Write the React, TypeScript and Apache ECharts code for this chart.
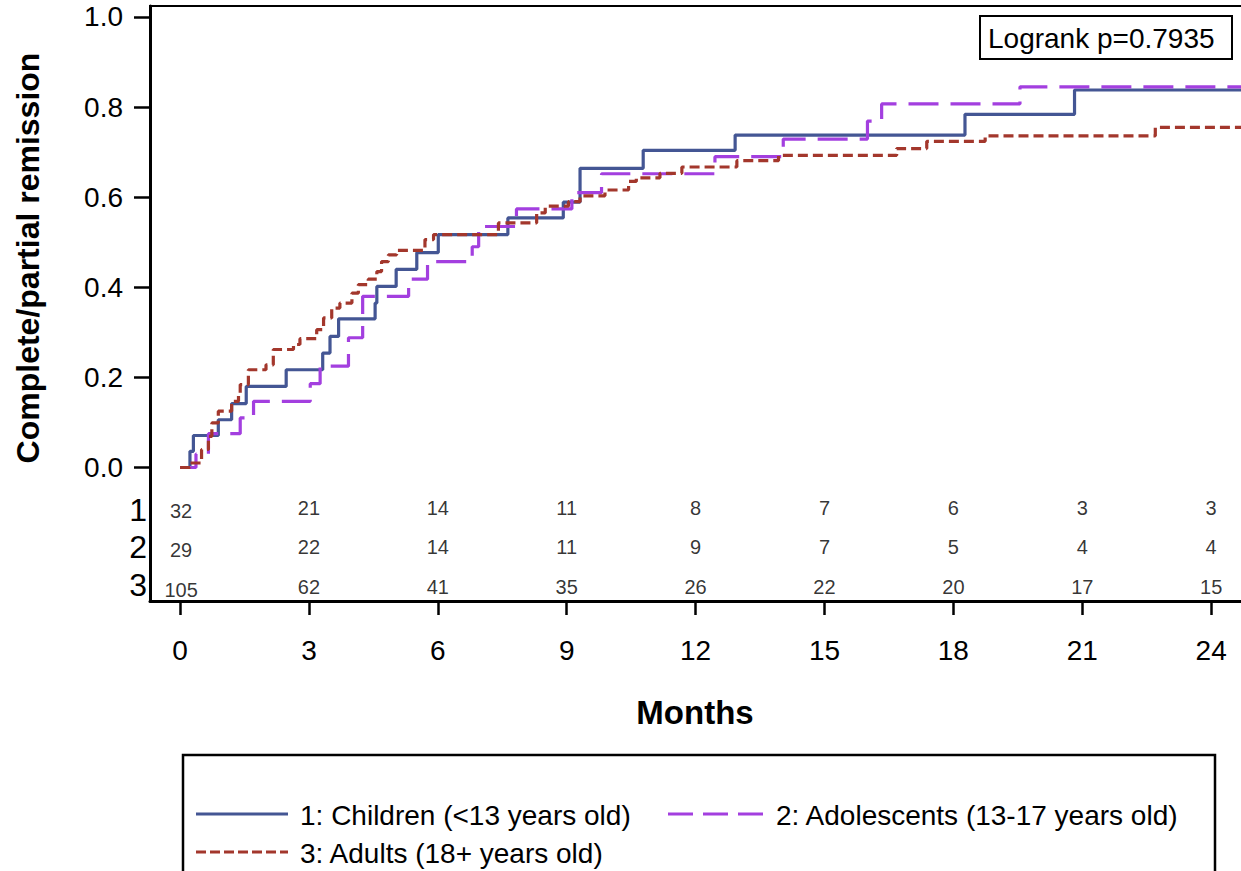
import React, { useEffect, useRef } from "react";
import * as echarts from "echarts";

// ---- data ----
const childTimes = [0, 0.23, 0.31, 0.89, 1.2, 1.54, 2.47, 3.32, 3.49, 3.69, 4.54, 4.58, 5.03, 5.51, 6.01, 7.63, 8.92, 9.31, 10.78, 12.92, 18.27, 20.82, 25.3];
const childValues = [0, 0.036, 0.071, 0.106, 0.142, 0.18, 0.217, 0.254, 0.291, 0.33, 0.365, 0.402, 0.44, 0.477, 0.517, 0.554, 0.589, 0.664, 0.704, 0.738, 0.784, 0.838, 0.838];

const adolTimes = [0, 0.37, 0.66, 1.4, 1.71, 3.03, 3.26, 3.92, 4.25, 5.32, 5.76, 6.8, 6.95, 7.83, 9.12, 9.81, 12.45, 14.04, 16.0, 16.33, 19.55, 25.3];
const adolValues = [0, 0.03, 0.075, 0.11, 0.147, 0.186, 0.225, 0.288, 0.38, 0.418, 0.457, 0.49, 0.535, 0.574, 0.61, 0.652, 0.69, 0.729, 0.769, 0.807, 0.845, 0.845];

const adultTimes = [0, 0.23, 0.5, 0.66, 0.74, 0.89, 1.2, 1.36, 1.4, 1.59, 2.0, 2.17, 2.64, 2.79, 3.18, 3.34, 3.53, 3.72, 4.0, 4.15, 4.38, 4.58, 4.69, 4.85, 5.04, 5.7, 5.9, 7.41, 8.3, 8.5, 9.04, 9.31, 9.89, 10.44, 10.62, 11.17, 11.68, 12.96, 13.93, 16.68, 17.38, 18.74, 22.7, 25.3];
const adultValues = [0, 0.01, 0.04, 0.069, 0.099, 0.125, 0.147, 0.166, 0.184, 0.217, 0.228, 0.262, 0.273, 0.286, 0.306, 0.332, 0.354, 0.365, 0.387, 0.406, 0.418, 0.435, 0.457, 0.472, 0.482, 0.506, 0.517, 0.543, 0.565, 0.58, 0.59, 0.603, 0.616, 0.635, 0.643, 0.653, 0.667, 0.681, 0.693, 0.708, 0.724, 0.736, 0.755, 0.755];

const riskTimes = [0, 3, 6, 9, 12, 15, 18, 21, 24];
const risk1 = [32, 21, 14, 11, 8, 7, 6, 3, 3];
const risk2 = [29, 22, 14, 11, 9, 7, 5, 4, 4];
const risk3 = [105, 62, 41, 35, 26, 22, 20, 17, 15];

const xTicks = [0, 3, 6, 9, 12, 15, 18, 21, 24];
const yTicks = [0, 0.2, 0.4, 0.6, 0.8, 1.0];

const seriesNames = ["1: Children (<13 years old)", "2: Adolescents (13-17 years old)", "3: Adults (18+ years old)"];
const groupLabels = ["1", "2", "3"];

const BLUE = "#445694";
const PURPLE = "#a33fdf";
const RED = "#a3372c";
const FONT = "'Liberation Sans', Arial, Helvetica, sans-serif";

export default function App() {
  const ref = useRef<HTMLDivElement>(null);

  useEffect(() => {
    if (!ref.current) return;
    const chart = echarts.init(ref.current, undefined, { renderer: "svg" });

    const zip = (t: number[], v: number[]) => t.map((x, i) => [x, v[i]]);
    // risk-table rows placed in value space below 0
    const rowY = [-0.0899, -0.1765, -0.2642];
    const riskRows = [risk1, risk2, risk3];
    const riskData: any[] = [];
    riskRows.forEach((row, r) => {
      row.forEach((n, i) => {
        const item: any = { value: [riskTimes[i], rowY[r], n] };
        if (i === 0) item.label = { offset: [1, 3] };
        riskData.push(item);
      });
    });

    const option: any = {
      animation: false,
      grid: {
        left: 150,
        top: 6,
        width: 1117,
        height: 595,
        show: true,
        borderColor: "#000",
        borderWidth: 2,
        backgroundColor: "transparent",
      },
      xAxis: {
        type: "value",
        min: -0.7,
        max: 25.3,
        axisLine: { show: true, onZero: false, lineStyle: { color: "#000", width: 3 } },
        axisTick: { show: true, customValues: xTicks, length: 14, lineStyle: { color: "#000", width: 2.5 } },
        axisLabel: {
          show: true,
          customValues: xTicks,
          margin: 35,
          fontSize: 28,
          color: "#000",
          fontFamily: FONT,
        },
        splitLine: { show: false },
      },
      yAxis: {
        type: "value",
        min: -0.2963,
        max: 1.0244,
        axisLine: { show: true, onZero: false, lineStyle: { color: "#000", width: 3 } },
        axisTick: { show: true, customValues: yTicks, length: 16, lineStyle: { color: "#000", width: 2.5 } },
        axisLabel: {
          show: true,
          customValues: yTicks,
          margin: 27,
          fontSize: 28,
          color: "#000",
          fontFamily: FONT,
          formatter: (v: number) => v.toFixed(1),
        },
        splitLine: { show: false },
      },
      series: [
        {
          name: seriesNames[0],
          type: "line",
          step: "end",
          symbol: "none",
          data: zip(childTimes, childValues),
          lineStyle: { color: BLUE, width: 3.2 },
          z: 3,
        },
        {
          name: seriesNames[1],
          type: "line",
          step: "end",
          symbol: "none",
          data: zip(adolTimes, adolValues),
          lineStyle: { color: PURPLE, width: 3.2, type: [30, 12] },
          z: 4,
        },
        {
          name: seriesNames[2],
          type: "line",
          step: "end",
          symbol: "none",
          data: zip(adultTimes, adultValues),
          lineStyle: { color: RED, width: 3.2, type: [10, 5] },
          z: 5,
        },
        {
          name: "risk",
          type: "scatter",
          symbol: "circle",
          symbolSize: 2,
          itemStyle: { color: "rgba(0,0,0,0)" },
          data: riskData,
          silent: true,
          clip: false,
          label: {
            show: true,
            position: "inside",
            formatter: (p: any) => String(p.value[2]),
            fontSize: 20,
            color: "#000",
            fontFamily: FONT,
          },
        },
      ],
      graphic: [
        // y-axis title
        {
          type: "text",
          x: 28,
          y: 258,
          rotation: Math.PI / 2,
          style: {
            text: "Complete/partial remission",
            fontSize: 32,
            fontWeight: "bold",
            fontFamily: FONT,
            fill: "#000",
            align: "center",
            verticalAlign: "middle",
          },
        },
        // x-axis title
        {
          type: "text",
          x: 695,
          y: 712,
          style: {
            text: "Months",
            fontSize: 33,
            fontWeight: "bold",
            fontFamily: FONT,
            fill: "#000",
            align: "center",
            verticalAlign: "middle",
          },
        },
        // risk-table group labels
        ...groupLabels.map((g, i) => ({
          type: "text",
          x: 147,
          y: [510, 547, 585][i],
          style: {
            text: g,
            fontSize: 32,
            fontFamily: FONT,
            fill: "#000",
            align: "right",
            verticalAlign: "middle",
          },
        })),
        // logrank box
        {
          type: "rect",
          shape: { x: 980, y: 16, width: 252, height: 43 },
          style: { fill: "#fff", stroke: "#000", lineWidth: 2 },
          z: 10,
        },
        {
          type: "text",
          x: 988,
          y: 38,
          z: 11,
          style: {
            text: "Logrank p=0.7935",
            fontSize: 28,
            fontFamily: FONT,
            fill: "#000",
            align: "left",
            verticalAlign: "middle",
          },
        },
        // legend box
        {
          type: "rect",
          shape: { x: 183, y: 755, width: 1032, height: 140 },
          style: { fill: "none", stroke: "#000", lineWidth: 2.5 },
        },
        {
          type: "line",
          shape: { x1: 196, y1: 814, x2: 288, y2: 814 },
          style: { stroke: BLUE, lineWidth: 3.2 },
        },
        {
          type: "text",
          x: 300,
          y: 815,
          style: { text: seriesNames[0], fontSize: 28, fontFamily: FONT, fill: "#000", align: "left", verticalAlign: "middle" },
        },
        {
          type: "line",
          shape: { x1: 668, y1: 814, x2: 763, y2: 814 },
          style: { stroke: PURPLE, lineWidth: 3.2, lineDash: [25, 10] },
        },
        {
          type: "text",
          x: 776,
          y: 815,
          style: { text: seriesNames[1], fontSize: 28, fontFamily: FONT, fill: "#000", align: "left", verticalAlign: "middle" },
        },
        {
          type: "line",
          shape: { x1: 196, y1: 852, x2: 288, y2: 852 },
          style: { stroke: RED, lineWidth: 3.2, lineDash: [10, 4] },
        },
        {
          type: "text",
          x: 300,
          y: 853,
          style: { text: seriesNames[2], fontSize: 28, fontFamily: FONT, fill: "#000", align: "left", verticalAlign: "middle" },
        },
      ],
    };

    chart.setOption(option);
    return () => chart.dispose();
  }, []);

  return (
    <div style={{ position: "fixed", left: 0, top: 0, width: 1241, height: 871, overflow: "hidden", background: "#fff" }}>
      <div ref={ref} style={{ width: 1300, height: 871 }} />
    </div>
  );
}
